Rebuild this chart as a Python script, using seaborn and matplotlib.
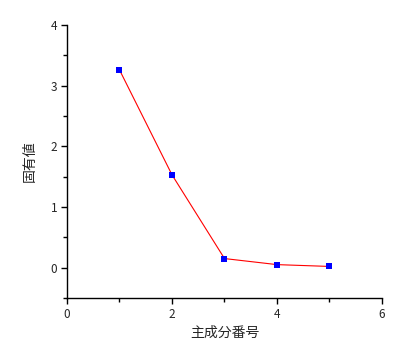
import matplotlib
matplotlib.use("Agg")
import matplotlib.pyplot as plt
import seaborn as sns
import pandas as pd
from matplotlib.ticker import MultipleLocator

components = [1, 2, 3, 4, 5]
eigenvalues = [3.26, 1.53, 0.15, 0.05, 0.02]

sns.set_style("ticks")
plt.rcParams['font.family'] = ['Noto Sans CJK JP', 'DejaVu Sans']

df = pd.DataFrame({"comp": components, "eig": eigenvalues})

fig = plt.figure(figsize=(4.1, 3.57), dpi=100)
ax = fig.add_axes([0.1634, 0.1653, 0.7683, 0.7647])

sns.lineplot(data=df, x="comp", y="eig", ax=ax, color="red", linewidth=0.8,
             marker="s", markersize=5, markerfacecolor="blue",
             markeredgecolor="blue", markeredgewidth=0)

ax.set_xlim(0, 6)
ax.set_ylim(-0.5, 4)
ax.xaxis.set_major_locator(MultipleLocator(2))
ax.xaxis.set_minor_locator(MultipleLocator(1))
ax.yaxis.set_major_locator(MultipleLocator(1))
ax.yaxis.set_minor_locator(MultipleLocator(0.5))
ax.tick_params(which="major", direction="out", length=4, width=1, labelsize=8.5, color="black", pad=3)
ax.tick_params(which="minor", direction="out", length=3, width=1, color="black")
for s in ["top", "right"]:
    ax.spines[s].set_visible(False)
for s in ["left", "bottom"]:
    ax.spines[s].set_color("black")
    ax.spines[s].set_linewidth(1)

ax.set_xlabel("主成分番号", fontsize=10, labelpad=4)
ax.set_ylabel("固有値", fontsize=10, labelpad=10)

fig.savefig("out.png", dpi=100)
